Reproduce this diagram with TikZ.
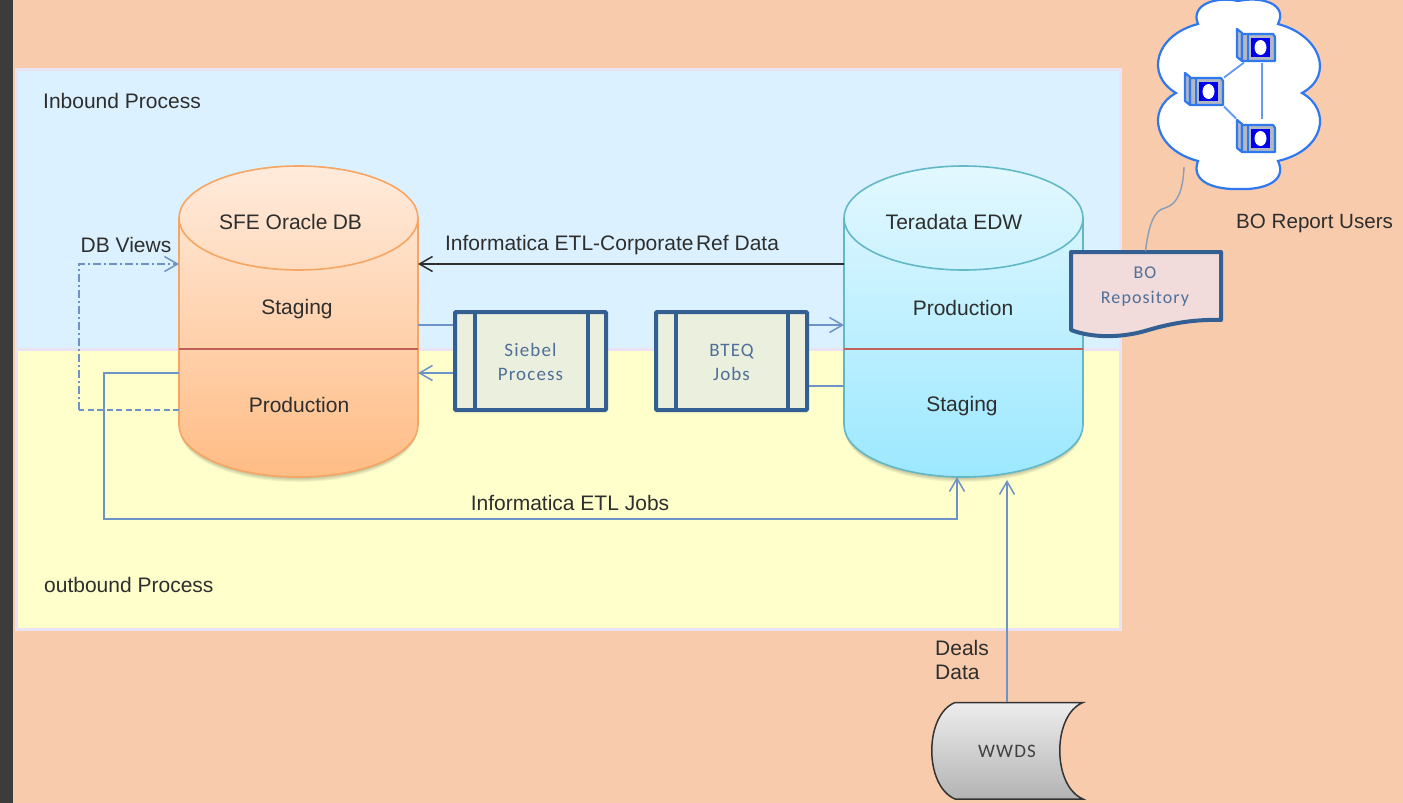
\documentclass[tikz,border=0pt]{standalone}
\usepackage{fontspec}
\setmainfont{Liberation Sans}
\newfontfamily\boxfont[LetterSpace=6]{Carlito}
\usetikzlibrary{arrows.meta}
\definecolor{peach}{HTML}{F7CBAC}
\definecolor{strip}{HTML}{3C3C3C}
\definecolor{inblue}{HTML}{DBF1FF}
\definecolor{outyel}{HTML}{FFFFCC}
\definecolor{frameC}{HTML}{E9E3F3}
\definecolor{linkC}{HTML}{6E93C6}
\definecolor{textC}{HTML}{2E2E2E}
\definecolor{boxB}{HTML}{335F92}
\definecolor{boxF}{HTML}{EBEFDD}
\definecolor{boxT}{HTML}{4F6F98}
\definecolor{redL}{HTML}{C0605A}
\definecolor{netC}{HTML}{2F78F0}
\definecolor{srvB}{HTML}{0000EE}
\definecolor{srvG}{HTML}{B4B8C0}
\definecolor{sfeL}{HTML}{F6A562}
\definecolor{sfeT}{HTML}{FFEBDC}
\definecolor{sfeB}{HTML}{FFBC85}
\definecolor{teraL}{HTML}{62B8C6}
\definecolor{teraT}{HTML}{E3F8FF}
\definecolor{teraB}{HTML}{9CE8FF}
\definecolor{repoF}{HTML}{F2DCDB}
\definecolor{wwdsT}{HTML}{EDEDED}
\definecolor{wwdsB}{HTML}{B3B3B3}
\definecolor{wireC}{HTML}{8A9DB5}
\tikzset{
  x=1pt,y=-1pt,
  lbl/.style={font=\fontsize{21}{24}\selectfont,text=textC,inner sep=0pt,align=left},
  boxlbl/.style={font=\boxfont\fontsize{19}{24}\selectfont,text=boxT,inner sep=0pt,align=center},
  panel/.style={draw=frameC,line width=3pt,inner sep=0pt,outer sep=0pt},
  cylnode/.style={minimum width=239pt,minimum height=311pt,inner sep=0pt,outer sep=0pt},
  procnode/.style={draw=boxB,fill=boxF,line width=4pt,rounded corners=1pt,minimum width=151pt,minimum height=98pt,inner sep=0pt,outer sep=2pt},
  srvnode/.style={minimum width=40pt,minimum height=35pt,inner sep=0pt,outer sep=0pt},
  link/.style={draw=linkC,line width=1.6pt},
  tip/.style={-{Straight Barb[length=13pt,width=15pt,line width=1.5pt]}},
  netlink/.style={draw=netC!75!white,line width=1.8pt},
  srv/.pic={
    \draw[draw=netC,fill=srvG,line width=2.2pt,line join=round] (-19,-16)--(-14,-12)--(-14,16)--(-19,12)--cycle;
    \draw[draw=netC,fill=srvG,line width=2.2pt,line join=round] (-14,-11)--(17,-11)--(19,-8)--(19,16)--(-14,16)--cycle;
    \fill[srvB] (-5,-7) rectangle (14,12);
    \fill[white] (4.5,2.5) ellipse[x radius=6pt,y radius=7.5pt];
    \draw[draw=netC,line width=1.6pt] (-8,-10)--(-8,16);
  }
}
\newcommand{\cylshape}[5]{%
  \foreach \d in {1,2,3,4,5}{%
    \fill[black,opacity=.05] (#1+\d*.2,222)--(#1+\d*.2,425+\d) arc[start angle=180,end angle=360,x radius=119.5pt-\d*.2pt,y radius=52pt]--(#5-\d*.2,222)--cycle;
  }
  \draw[draw=#2,line width=1.6pt,top color=#3,bottom color=#4]
    (#1,218)--(#1,425) arc[start angle=180,end angle=360,x radius=119.5pt,y radius=52pt]
    --(#5,218) arc[start angle=0,end angle=180,x radius=119.5pt,y radius=52pt]--cycle;
  \draw[draw=#2,line width=1.6pt] (#1,218) arc[start angle=180,end angle=360,x radius=119.5pt,y radius=52pt];
  \draw[draw=redL,line width=1.4pt] (#1,349)--(#5,349);
}
\begin{document}
\begin{tikzpicture}
\useasboundingbox (0,0) rectangle (1403,803);
\clip (0,0) rectangle (1403,803);
\fill[peach] (0,0) rectangle (1403,803);
\fill[strip] (0,0) rectangle (13,803);
% panels
\draw[panel,fill=inblue] (16,69.5) rectangle (1120,349.5);
\draw[panel,fill=outyel] (16,349.5) rectangle (1120,629);
\node[lbl,anchor=west] (inlbl) at (43,101) {Inbound Process};
\node[lbl,anchor=west] (outlbl) at (44,585) {outbound Process};
% rails
\coordinate (yRef) at (0,264);
\coordinate (ySieb) at (0,325);
\coordinate (yBack) at (0,373);
\coordinate (yProd) at (0,410);
\coordinate (yBteq) at (0,386);
\coordinate (etlA) at (104,519);
\coordinate (etlB) at (957,519);
\coordinate (viewA) at (79,410);
\coordinate (viewB) at (79,264);
% cylinders
\cylshape{179}{sfeL}{sfeT}{sfeB}{418}
\cylshape{844}{teraL}{teraT}{teraB}{1083}
\node[cylnode] (sfe) at (298.5,321.5) {};
\node[cylnode] (tera) at (963.5,321.5) {};
\node[lbl] (sfet) at (290.5,222) {SFE Oracle\hspace{.25em}DB};
\node[lbl] (sfes) at (297,309) {Staging};
\node[lbl] (sfep) at (299,405) {Production};
\node[lbl] (terat) at (954,222) {Teradata EDW};
\node[lbl] (teras) at (963,308) {Production};
\node[lbl] (terap) at (962,406) {Staging};
% process boxes
\node[procnode] (siebel) at (530.5,361) {};
\draw[draw=boxB,line width=4pt] (474.5,312)--(474.5,410) (588,312)--(588,410);
\node[boxlbl] (siebelt) at (530.5,362) {Siebel\\Process};
\node[procnode] (bteq) at (731.5,361) {};
\draw[draw=boxB,line width=4pt] (675.5,312)--(675.5,410) (788,312)--(788,410);
\node[boxlbl] (bteqt) at (731.5,362) {BTEQ\\Jobs};
% BO repository
\node[minimum width=151pt,minimum height=84pt,inner sep=0pt,outer sep=0pt] (repo) at (1145.5,293) {};
\draw[draw=boxB,line width=4pt,fill=repoF,line join=round]
  (1071,252)--(1221,252)--(1221,320)
  .. controls (1190,319) and (1165,325) .. (1145,331)
  .. controls (1120,338) and (1092,338) .. (1071,330)--cycle;
\node[boxlbl,font=\boxfont\fontsize{18}{25}\selectfont] (repot) at (1145,287) {BO\\Repository};
% cloud
\node[minimum width=164pt,minimum height=189pt,inner sep=0pt,outer sep=0pt] (cloud) at (1239,95) {};
\draw[draw=netC,line width=2.2pt,fill=white]
  (1198,24) .. controls (1190,5) and (1215,-4) .. (1238,1)
  .. controls (1262,-4) and (1288,4) .. (1278,24)
  .. controls (1320,35) and (1335,75) .. (1302,93)
  .. controls (1332,110) and (1325,150) .. (1278,161)
  .. controls (1288,182) and (1262,190) .. (1240,189)
  .. controls (1215,190) and (1190,182) .. (1198,161)
  .. controls (1155,150) and (1145,110) .. (1176,93)
  .. controls (1145,75) and (1155,35) .. (1198,24)--cycle;
\node[srvnode] (s1) at (1256,45) {};
\node[srvnode] (s2) at (1204,89) {};
\node[srvnode] (s3) at (1256,136) {};
\draw[netlink] ([yshift=-6pt]s2.north east)--([xshift=-12pt]s1.south);
\draw[netlink] (s2.south east)--(s3.north west);
\draw[netlink] ([xshift=6pt]s1.south)--([xshift=6pt]s3.north);
\pic at (s1) {srv};
\pic at (s2) {srv};
\pic at (s3) {srv};
\node[lbl,anchor=west,font=\fontsize{20.6}{24}\selectfont] (bousers) at (1236,223) {BO Report Users};
% WWDS
\node[minimum width=151pt,minimum height=97pt,inner sep=0pt,outer sep=0pt] (wwds) at (1007,750.5) {};
\draw[draw=black!80,line width=1.5pt,top color=wwdsT,bottom color=wwdsB]
  (955,702.5)--(1083,702.5) .. controls (1052,715) and (1052,786) .. (1083,799)
  --(955,799) .. controls (924,786) and (924,715) .. (955,702.5)--cycle;
\node[font=\boxfont\fontsize{19}{20}\selectfont,text=black!75,inner sep=0pt] (wwdst) at (1007,751) {WWDS};
% connectors
\draw[draw=textC,line width=1.6pt,tip] (tera.west |- yRef)--(sfe.east |- yRef);
\draw[link] (sfe.east |- ySieb)--(siebel.west |- ySieb);
\draw[link,tip] (siebel.west |- yBack)--(sfe.east |- yBack);
\draw[link,tip] (bteq.east |- ySieb)--(tera.west |- ySieb);
\draw[link] (bteq.east |- yBteq)--(tera.west |- yBteq);
\draw[link,dash pattern=on 6pt off 3.5pt] (sfe.west |- yProd)--(viewA);
\draw[link,tip,dash pattern=on 8pt off 3pt on 2pt off 3pt] (viewA)--(viewB)--(sfe.west |- viewB);
\draw[link,tip] (sfe.west |- yBack)--(etlA |- yBack)--(etlA)--(etlB)--(etlB |- tera.south);
\draw[link,line width=2pt,tip,shorten >=3pt] (wwds.north)--(wwds.north |- tera.south);
\draw[draw=wireC,line width=1.4pt] (repo.north) .. controls (1149,222) and (1155,210) .. (1165,208) .. controls (1178,204) and (1183,190) .. (1184,167);
% connector labels
\node[lbl] (dbviews) at (126,245) {DB Views};
\node[lbl] (reflbl) at (612,245) {Informatica ETL-Corporate\hspace{.12em}Ref Data};
\node[lbl] (etllbl) at (570,502.5) {Informatica ETL Jobs};
\node[lbl,anchor=west] (deals) at (935,660) {Deals\\Data};
\end{tikzpicture}
\end{document}
